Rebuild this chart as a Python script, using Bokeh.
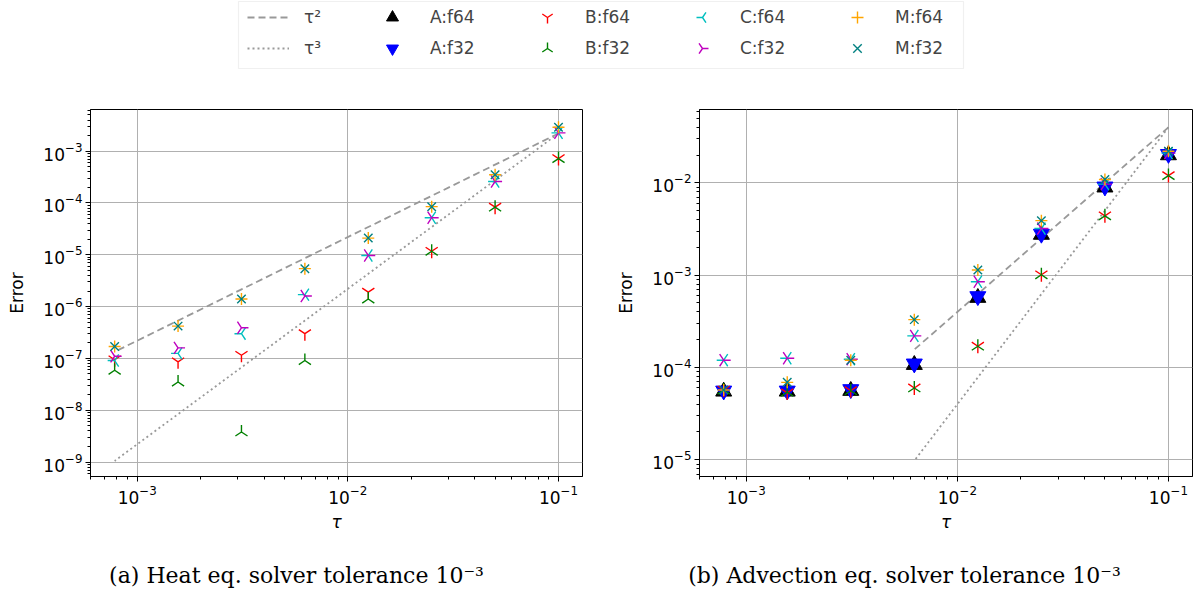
import numpy as np
from bokeh.plotting import figure
from bokeh.models import (ColumnDataSource, Range1d, FixedTicker, Legend, LegendItem,
                          Label, BoxAnnotation)
from bokeh.layouts import column, row
from bokeh.embed import file_html
from bokeh.resources import INLINE

# time steps
tau = [0.1, 0.05, 0.025, 0.0125, 0.00625, 0.003125, 0.0015625, 0.00078125]

# heat equation errors
heat_B64 = [7.2e-4, 8.3e-5, 1.17e-5, 1.9e-6, 3.0e-7, 1.15e-7, 8.6e-8, 9.4e-8]
heat_B32 = [7.2e-4, 8.3e-5, 1.17e-5, 1.4e-6, 9.1e-8, 3.8e-9, 3.5e-8, 5.9e-8]
heat_C64 = [2.26e-3, 2.6e-4, 5.2e-5, 9.7e-6, 1.7e-6, 3.0e-7, 1.25e-7, 9.1e-8]
heat_C32 = [2.26e-3, 2.6e-4, 5.2e-5, 9.7e-6, 1.6e-6, 3.9e-7, 1.6e-7, 1.1e-7]
heat_M64 = [2.9e-3, 3.5e-4, 8.5e-5, 2.1e-5, 5.4e-6, 1.4e-6, 4.2e-7, 1.7e-7]
heat_M32 = [2.9e-3, 3.5e-4, 8.5e-5, 2.1e-5, 5.4e-6, 1.4e-6, 4.2e-7, 1.7e-7]

# advection equation errors
adv_A64 = [2.0e-2, 8.95e-3, 2.75e-3, 5.7e-4, 1.07e-4, 5.6e-5, 5.5e-5, 5.5e-5]
adv_A32 = [2.05e-2, 9.1e-3, 2.8e-3, 5.9e-4, 1.1e-4, 5.8e-5, 5.6e-5, 5.6e-5]
adv_B64 = [1.2e-2, 4.4e-3, 1.01e-3, 1.7e-4, 6.0e-5, 5.6e-5, 5.3e-5, 5.7e-5]
adv_B32 = [1.2e-2, 4.4e-3, 1.01e-3, 1.7e-4, 6.0e-5, 5.6e-5, 5.4e-5, 5.7e-5]
adv_C64 = [2.1e-2, 9.7e-3, 3.2e-3, 8.5e-4, 2.2e-4, 1.23e-4, 1.26e-4, 1.2e-4]
adv_C32 = [2.1e-2, 9.7e-3, 3.2e-3, 8.5e-4, 2.2e-4, 1.23e-4, 1.26e-4, 1.2e-4]
adv_M64 = [2.2e-2, 1.09e-2, 3.9e-3, 1.14e-3, 3.3e-4, 1.2e-4, 6.9e-5, 5.7e-5]
adv_M32 = [2.2e-2, 1.09e-2, 3.9e-3, 1.14e-3, 3.3e-4, 1.2e-4, 6.9e-5, 5.7e-5]

# reference slopes: value at tau = 0.1 and the number of points used
heat_ref_anchor = 2.2e-3
heat_ref_n = 8
adv_ref_anchor = 4.0e-2
adv_ref_n = 5

# tick values
x_ticks = [1e-3, 1e-2, 1e-1]
heat_y_ticks = [1e-9, 1e-8, 1e-7, 1e-6, 1e-5, 1e-4, 1e-3]
adv_y_ticks = [1e-5, 1e-4, 1e-3, 1e-2]
minor_ticks = [m * 10.0 ** e for e in range(-11, 1) for m in range(2, 10)]

STYLES = {
    "A:f64": dict(marker="triangle", color="black", angle=0.0, size=16, filled=True),
    "A:f32": dict(marker="inverted_triangle", color="blue", angle=0.0, size=16, filled=True),
    "B:f64": dict(marker="y", color="red", angle=0.0, size=14, filled=False),
    "B:f32": dict(marker="y", color="green", angle=np.pi, size=14, filled=False),
    "C:f64": dict(marker="y", color="#00bfbf", angle=-np.pi / 2, size=14, filled=False),
    "C:f32": dict(marker="y", color="#bf00bf", angle=np.pi / 2, size=14, filled=False),
    "M:f64": dict(marker="cross", color="orange", angle=0.0, size=12, filled=False),
    "M:f32": dict(marker="x", color="teal", angle=0.0, size=12, filled=False),
}
ROTATED = ["B:f64", "B:f32", "C:f64", "C:f32"]
DASH2 = dict(line_color="#999999", line_width=1.8, line_dash="7 4")
DASH3 = dict(line_color="#999999", line_width=1.8, line_dash="2 3")

FONT = "DejaVu Sans"


def add_series(p, name, xs, ys, size=None, **extra):
    st = STYLES[name]
    src = ColumnDataSource(data=dict(x=xs, y=ys))
    kw = dict(marker=st["marker"], size=size or st["size"], angle=st["angle"],
              line_color=st["color"], line_width=1.4)
    if st["filled"]:
        kw.update(fill_color=st["color"], line_width=1)
    else:
        kw.update(fill_color=None)
    kw.update(extra)
    return p.scatter("x", "y", source=src, **kw)


def make_panel(y_range, y_ticks, border_left, border_right, width):
    p = figure(width=width, height=450, x_axis_type="log", y_axis_type="log",
               x_range=Range1d(6.0e-4, 0.130), y_range=y_range,
               toolbar_location=None, output_backend="svg",
               min_border_left=border_left, min_border_right=border_right,
               min_border_top=19, min_border_bottom=64)
    p.xaxis.ticker = FixedTicker(ticks=x_ticks, minor_ticks=minor_ticks)
    p.yaxis.ticker = FixedTicker(ticks=y_ticks, minor_ticks=minor_ticks)
    p.xaxis.axis_label = "τ"
    p.yaxis.axis_label = "Error"
    for ax in p.axis:
        ax.major_label_text_font = FONT
        ax.major_label_text_font_size = "17px"
        ax.major_label_text_color = "black"
        ax.axis_label_text_font = FONT
        ax.axis_label_text_font_size = "17px"
        ax.axis_label_text_font_style = "normal"
        ax.axis_label_text_color = "black"
        ax.major_tick_in = 0
        ax.major_tick_out = 5
        ax.minor_tick_in = 0
        ax.minor_tick_out = 3
        ax.axis_line_color = "black"
        ax.major_tick_line_color = "black"
        ax.minor_tick_line_color = "black"
        ax.major_label_standoff = 3
    p.yaxis.axis_label_standoff = 13
    p.xaxis.axis_label_text_font_style = "italic"
    p.grid.grid_line_color = "#b0b0b0"
    p.grid.grid_line_width = 1
    p.outline_line_color = "black"
    p.outline_line_width = 1
    p.background_fill_color = "white"
    p.border_fill_color = "white"
    return p


def slope_lines(p, anchor, n):
    t = np.array(tau[:n])
    r2 = p.line(t, anchor * (t / tau[0]) ** 2, **DASH2)
    r3 = p.line(t, anchor * (t / tau[0]) ** 3, **DASH3)
    return r2, r3


# (a) heat equation
p1 = make_panel(Range1d(5.25e-10, 6.38e-3), heat_y_ticks, 90, 18, 600)
slope_lines(p1, heat_ref_anchor, heat_ref_n)
for name, ys in [("B:f64", heat_B64), ("B:f32", heat_B32), ("C:f64", heat_C64),
                 ("C:f32", heat_C32), ("M:f64", heat_M64), ("M:f32", heat_M32)]:
    add_series(p1, name, tau, ys)

# (b) advection equation
adv_series = [("A:f64", adv_A64), ("A:f32", adv_A32), ("B:f64", adv_B64),
              ("B:f32", adv_B32), ("C:f64", adv_C64), ("C:f32", adv_C32),
              ("M:f64", adv_M64), ("M:f32", adv_M32)]
p2 = make_panel(Range1d(6.59e-6, 6.24e-2), adv_y_ticks, 99, 10, 602)
slope_lines(p2, adv_ref_anchor, adv_ref_n)
for name, ys in adv_series:
    add_series(p2, name, tau, ys)

# ---- shared legend strip ----
LEG_W, LEG_H = 1202, 90
GLYPH_W, GLYPH_H, ROW_GAP = 42, 30, 1
STANDOFF, LABEL_W = 17, 95
LINES_X, MARKS_X, LEG_TOP = 247, 371, 2
COL_PITCH = GLYPH_W + STANDOFF + LABEL_W + ROW_GAP

# main ranges keep the legend's sample renderers off-screen; "px" ranges are pixel space
leg_fig = figure(width=LEG_W, height=LEG_H, toolbar_location=None, output_backend="svg",
                 x_axis_location=None, y_axis_location=None, min_border=0,
                 outline_line_color=None, x_range=Range1d(10, 11), y_range=Range1d(10, 11))
leg_fig.extra_x_ranges = {"px": Range1d(0, LEG_W)}
leg_fig.extra_y_ranges = {"px": Range1d(LEG_H, 0)}
leg_fig.grid.visible = False
leg_fig.add_layout(BoxAnnotation(left=238, right=963, top=LEG_H - 1, bottom=LEG_H - 68,
                                 left_units="screen", right_units="screen",
                                 top_units="screen", bottom_units="screen",
                                 fill_color="white", fill_alpha=1.0, level="underlay",
                                 line_color="#cccccc", line_width=1.2))
r2, r3 = slope_lines(leg_fig, adv_ref_anchor, adv_ref_n)
line_items = [LegendItem(label="τ²", renderers=[r2]), LegendItem(label="τ³", renderers=[r3])]
marker_items = []
for name, ys in adv_series:
    # rotated tri markers get an empty proxy; their sample is drawn below with its angle
    if name in ROTATED:
        r = add_series(leg_fig, name, [], [])
    else:
        r = add_series(leg_fig, name, tau, ys)
    marker_items.append(LegendItem(label=name, renderers=[r]))

common = dict(orientation="vertical", margin=0, padding=0, spacing=ROW_GAP,
              glyph_height=GLYPH_H, glyph_width=GLYPH_W,
              label_text_font=FONT, label_text_font_size="17px",
              border_line_color=None, background_fill_alpha=0.0)
legend_bottom = LEG_H - (LEG_TOP + 2 * GLYPH_H + ROW_GAP)
leg_lines = Legend(items=line_items, location=(LINES_X, legend_bottom),
                   label_standoff=15, **common)
leg_marks = Legend(items=marker_items, location=(MARKS_X, legend_bottom), nrows=2,
                   label_standoff=STANDOFF, label_width=LABEL_W, **common)
leg_fig.add_layout(leg_lines)
leg_fig.add_layout(leg_marks)

for k, name in enumerate(STYLES):
    if name not in ROTATED:
        continue
    col, rw = divmod(k, 2)
    cx = MARKS_X + GLYPH_W / 2 + col * COL_PITCH
    cy = LEG_TOP + GLYPH_H / 2 + rw * (GLYPH_H + ROW_GAP)
    add_series(leg_fig, name, [cx], [cy], size=12, x_range_name="px", y_range_name="px")

# captions
cap_fig = figure(width=1202, height=55, toolbar_location=None, output_backend="svg",
                 x_axis_location=None, y_axis_location=None, min_border=0,
                 outline_line_color=None, x_range=Range1d(0, 1), y_range=Range1d(0, 1))
cap_fig.grid.visible = False
for cx, txt in [(296, "(a) Heat eq. solver tolerance 10⁻³"),
                (904, "(b) Advection eq. solver tolerance 10⁻³")]:
    cap_fig.add_layout(Label(x=cx, y=20, x_units="screen", y_units="screen", text=txt,
                             text_align="center", text_baseline="middle",
                             text_font="DejaVu Serif", text_font_size="22px",
                             text_color="black"))

layout = column(leg_fig, row(p1, p2), cap_fig)
open("out.html", "w").write(file_html(layout, INLINE))
